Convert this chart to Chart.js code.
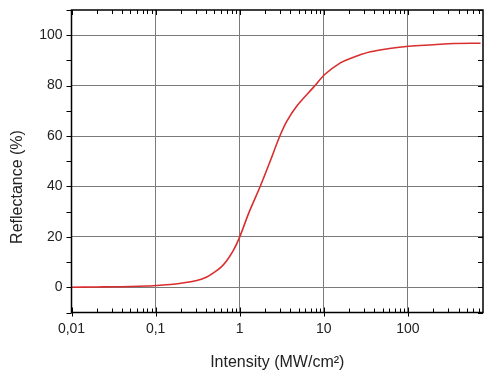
<!DOCTYPE html>
<html>
<head>
<meta charset="utf-8">
<script src="https://cdn.jsdelivr.net/npm/chart.js@4/dist/chart.umd.min.js"></script>
<style>
  body { margin: 0; background: #fff; }
  #wrap { width: 500px; height: 375px; position: relative; }
</style>
</head>
<body>
<div id="wrap"><canvas id="reflectance-chart"></canvas></div>
<script>
const reflectanceChart = document.getElementById("reflectance-chart");

// values
const intensity = [0.01, 0.02, 0.03, 0.05, 0.08, 0.1, 0.15, 0.2, 0.3, 0.4, 0.5, 0.6, 0.7, 0.84, 1, 1.3, 1.75, 2.3, 3.0, 3.65, 4.8, 7.6, 10.4, 15.7, 20.6, 35.8, 60, 102, 200, 351, 730];
const reflectance = [0, 0.1, 0.2, 0.3, 0.5, 0.7, 1.1, 1.6, 2.6, 4.0, 6.0, 8.0, 10.5, 14.6, 20, 30, 40, 50, 60, 66, 72, 79.5, 84.6, 89.0, 90.8, 93.4, 94.7, 95.6, 96.2, 96.7, 96.8];
const xTickLabels = ["0,01", "0,1", "1", "10", "100"];
const yTickLabels = [0, 20, 40, 60, 80, 100];

const points = intensity.map((v, i) => ({ x: v, y: reflectance[i] }));

const fontFamily = "'Liberation Sans', Arial, sans-serif";

function decade(v) {
  const e = Math.log10(v);
  return Math.abs(e - Math.round(e)) < 1e-6;
}
function xLabel(v) {
  const idx = Math.round(Math.log10(v)) + 2;
  return decade(v) && idx >= 0 && idx < xTickLabels.length ? xTickLabels[idx] : "";
}

// frame, ticks on all four sides, y title
const frameTicks = {
  id: "frameTicks",
  afterDraw(chart) {
    const { ctx, chartArea: a, scales: { x, y } } = chart;
    ctx.save();
    ctx.strokeStyle = "#000";
    ctx.lineWidth = 1;
    ctx.beginPath();
    x.ticks.forEach(t => {
      const v = t.value;
      const s = v / Math.pow(10, Math.floor(Math.log10(v) + 1e-9));
      if (Math.abs(s - Math.round(s)) > 1e-6) return;
      const px = Math.round(x.getPixelForValue(v)) + 0.5;
      const major = decade(v);
      ctx.moveTo(px, a.bottom + (major ? 4 : 0));
      ctx.lineTo(px, a.bottom - (major ? 5 : 4));
      ctx.moveTo(px, a.top);
      ctx.lineTo(px, a.top + (major ? 5 : 4));
    });
    y.ticks.forEach(t => {
      const py = Math.round(y.getPixelForValue(t.value)) + 0.5;
      ctx.moveTo(a.left, py);
      ctx.lineTo(a.left - 5, py);
      ctx.moveTo(a.right, py);
      ctx.lineTo(a.right - 5, py);
    });
    ctx.stroke();
    ctx.lineWidth = 1.5;
    ctx.strokeRect(a.left, a.top, a.right - a.left, a.bottom - a.top);

    ctx.fillStyle = "#222";
    ctx.font = "16px " + fontFamily;
    ctx.textAlign = "center";
    ctx.textBaseline = "middle";
    ctx.translate(18, 187);
    ctx.rotate(-Math.PI / 2);
    ctx.fillText("Reflectance (%)", 0, 0);
    ctx.restore();
  }
};

new Chart(reflectanceChart, {
  type: "line",
  data: {
    datasets: [
      {
        label: "Reflectance",
        data: points,
        borderColor: "rgb(218, 45, 45)",
        borderWidth: 1.6,
        pointRadius: 0,
        tension: 0.35,
        fill: false,
      },
    ],
  },
  options: {
    responsive: true,
    maintainAspectRatio: false,
    animation: false,
    layout: { padding: { top: 10, right: 17, left: 0, bottom: 0 } },
    plugins: {
      legend: { display: false },
      tooltip: { enabled: false },
    },
    scales: {
      x: {
        type: "logarithmic",
        min: 0.01,
        max: 780,
        afterFit: scale => {
          scale.height = 62.5;
          scale.paddingLeft = 0;
          scale.paddingRight = 0;
        },
        border: { display: false },
        grid: {
          drawTicks: false,
          color: c => (c.tick && decade(c.tick.value) ? "#7a7a7a" : "rgba(0,0,0,0)"),
          lineWidth: 1,
        },
        ticks: {
          autoSkip: false,
          maxRotation: 0,
          padding: 8,
          color: "#222",
          font: { family: fontFamily, size: 14 },
          callback: v => xLabel(v),
        },
        title: {
          display: true,
          text: "Intensity (MW/cm²)",
          color: "#222",
          font: { family: fontFamily, size: 16 },
          padding: { top: 0, bottom: 3 },
        },
      },
      y: {
        min: -10,
        max: 110,
        afterFit: scale => {
          scale.width = 71.5;
          scale.paddingTop = 0;
          scale.paddingBottom = 0;
        },
        border: { display: false },
        grid: {
          drawTicks: false,
          color: c => (c.tick && yTickLabels.includes(c.tick.value) ? "#7a7a7a" : "rgba(0,0,0,0)"),
          lineWidth: 1,
        },
        ticks: {
          stepSize: 10,
          padding: 9,
          color: "#222",
          font: { family: fontFamily, size: 14 },
          callback: v => (yTickLabels.includes(v) ? String(v) : ""),
        },
      },
    },
  },
  plugins: [frameTicks],
});
</script>
</body>
</html>
